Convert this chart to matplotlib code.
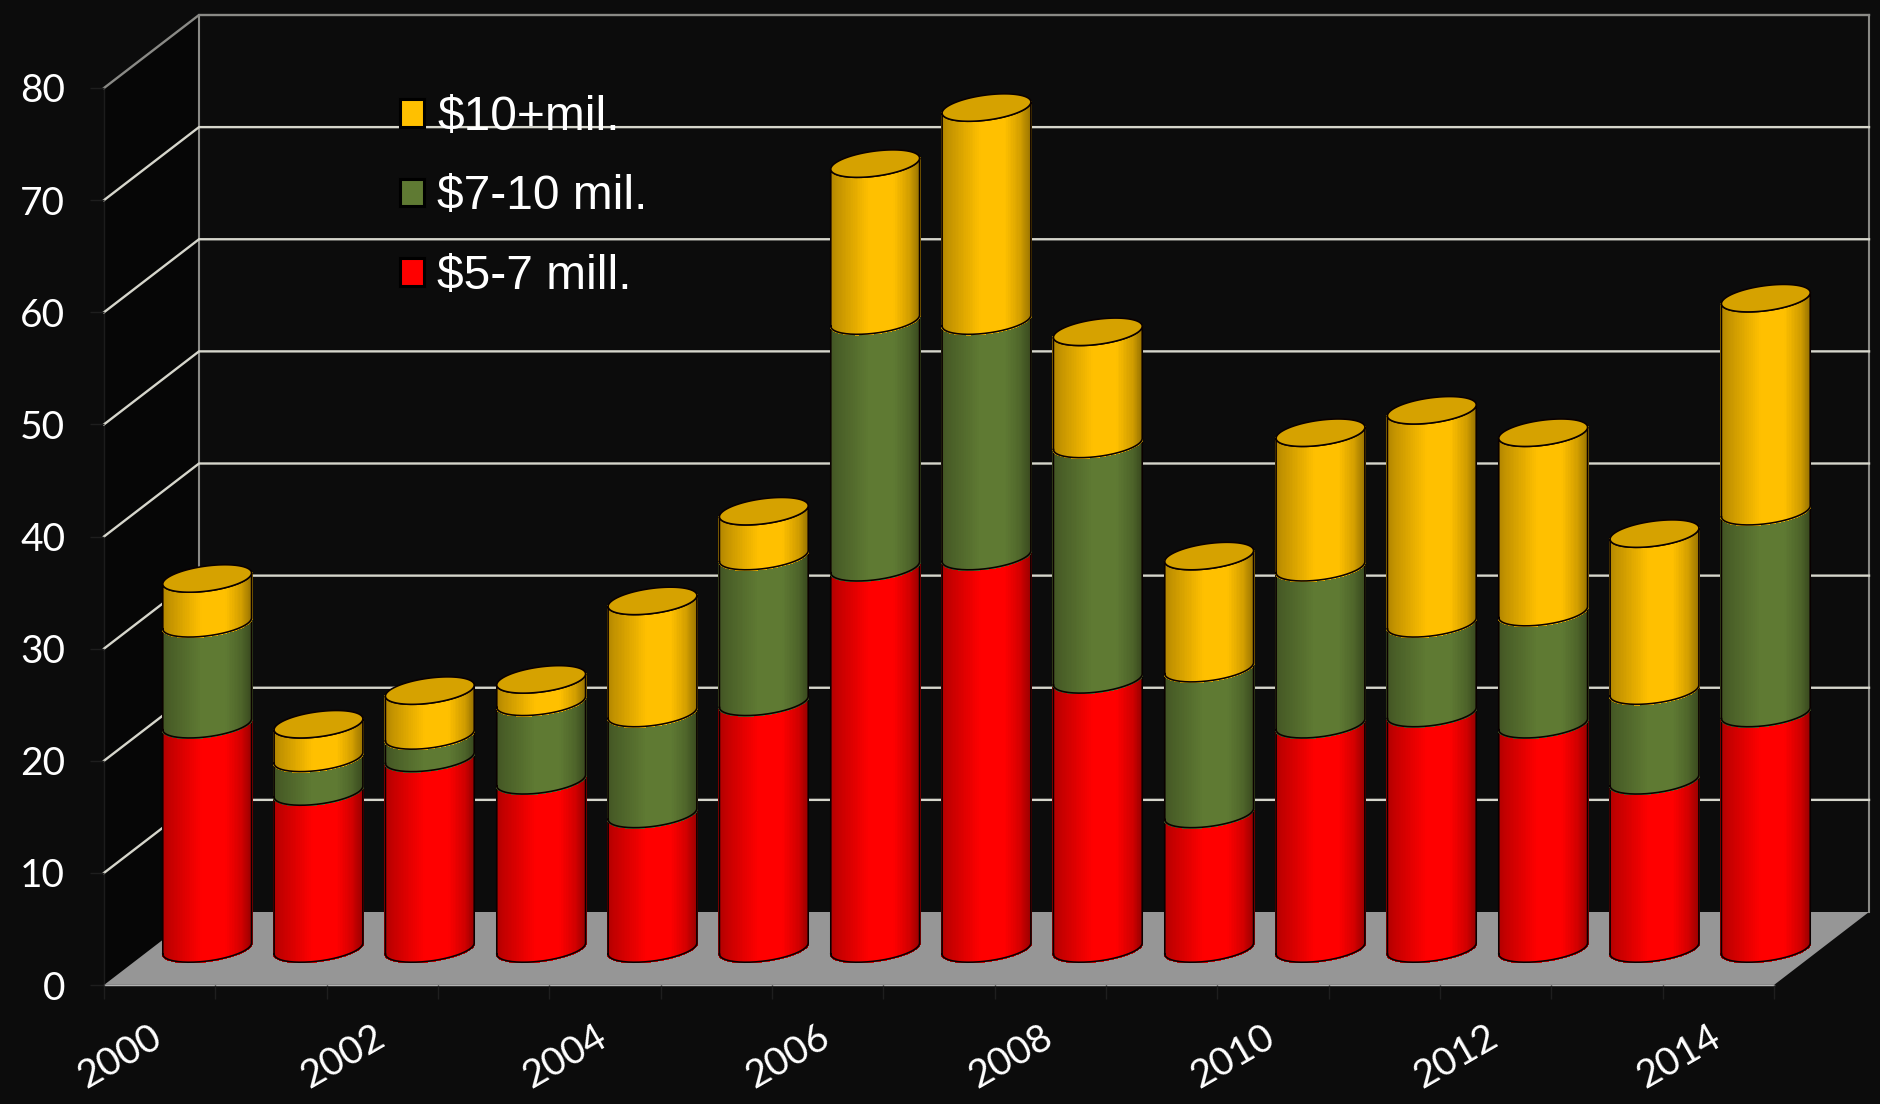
import numpy as np
import matplotlib
matplotlib.use("Agg")
import matplotlib.pyplot as plt
from matplotlib.collections import PolyCollection
from matplotlib.patches import Patch, Polygon
from matplotlib.colors import to_rgb
from matplotlib.transforms import ScaledTranslation

years = list(range(2000, 2015))
low = [20, 14, 17, 15, 12, 22, 34, 35, 24, 12, 20, 21, 20, 15, 21]    # $5-7 mill.
mid = [9, 3, 2, 7, 9, 13, 22, 21, 21, 13, 14, 8, 10, 8, 18]           # $7-10 mil.
high = [4, 3, 4, 2, 10, 4, 14, 19, 10, 10, 12, 19, 16, 14, 19]        # $10+mil.
series_labels = ["$5-7 mill.", "$7-10 mil.", "$10+mil."]
series_colors = ["#ff0000", "#5f7a33", "#ffc000"]
top_color = "#d6a200"
y_ticks = list(range(0, 90, 10))

W, H = 1881, 1104
BG = "#0c0c0c"
fig = plt.figure(figsize=(W / 100, H / 100), dpi=100, facecolor=BG)
ax = fig.add_axes([104 / W, (H - 985) / H, 1670 / W, 897 / H])
ax.set_facecolor("none")
ax.set_xlim(-0.5, 14.5)
ax.set_ylim(0, 80)

DX = 95 / (1670 / 15)   # depth offset in category units
DY = 73 / (897 / 80)    # depth offset in value units


def proj(i, v, d):
    return np.asarray(i) + np.asarray(d) * DX, np.asarray(v) + np.asarray(d) * DY


GRID = "#d6d6cc"
EDGE = "#8a8a86"

# walls & floor
xs, ys = proj([-0.5, -0.5, -0.5, -0.5], [0, 80, 80, 0], [0, 0, 1, 1])
ax.add_patch(Polygon(np.c_[xs, ys], fc="#060606", ec="none", zorder=1, clip_on=False))
xs, ys = proj([-0.5, 14.5, 14.5, -0.5], [0, 0, 0, 0], [0, 0, 1, 1])
ax.add_patch(Polygon(np.c_[xs, ys], fc="#969696", ec="none", zorder=1.2, clip_on=False))
ax.plot([-0.5, 14.5], [0, 0], color="#b4b4b4", lw=1.0, zorder=1.3, clip_on=False)

# gridlines
for v in y_ticks[1:]:
    col = EDGE if v == 80 else GRID
    x, y = proj([-0.5, -0.5, 14.5], [v, v, v], [0, 1, 1])
    ax.plot(x, y, color=col, lw=1.7, zorder=1.5, clip_on=False, solid_joinstyle="miter")
for c in (-0.5, 14.5):
    x, y = proj([c, c], [0, 80], [1, 1])
    ax.plot(x, y, color=EDGE, lw=1.5, zorder=1.4, clip_on=False)

# cylinders
UX = 0.365          # radius along the category axis
VD = 0.188          # radius along the depth axis (fraction of depth)
CD = 0.5            # depth of the cylinder axis
theta = np.arctan2(VD * DX, UX)
bright_pos = [0.0, 0.08, 0.45, 0.72, 0.90, 1.0]
bright_val = [0.68, 0.76, 1.0, 1.0, 0.82, 0.62]


def ring(i, v, t):
    return proj(i + UX * np.cos(t), v, CD + VD * np.sin(t))


def segment(i, v0, v1, color, z):
    n = 70
    t = np.linspace(np.pi + theta, 2 * np.pi + theta, n + 1)
    x0, y0 = ring(i, v0, t)
    x1, y1 = ring(i, v1, t)
    base = np.array(to_rgb(color))
    polys, cols = [], []
    xmin, xmax = x0.min(), x0.max()
    for k in range(n):
        polys.append([(x0[k], y0[k]), (x0[k + 1], y0[k + 1]), (x1[k + 1], y1[k + 1]), (x1[k], y1[k])])
        f = ((x0[k] + x0[k + 1]) / 2 - xmin) / (xmax - xmin)
        cols.append(base * np.interp(f, bright_pos, bright_val))
    pc = PolyCollection(polys, facecolors=cols, edgecolors=cols, linewidths=1.0, antialiaseds=False,
                        zorder=z, clip_on=False)
    ax.add_collection(pc, autolim=False)
    # outline: bottom arc, sides, top arc
    ox = np.r_[x0, x1[::-1], x0[0]]
    oy = np.r_[y0, y1[::-1], y0[0]]
    ax.plot(ox, oy, color="#0a0000", lw=1.15, zorder=z + 0.01, clip_on=False, solid_joinstyle="round")


for i in range(len(years)):
    z = 3 + i * 0.1
    b1 = low[i]
    b2 = b1 + mid[i]
    b3 = b2 + high[i]
    segment(i, 0, b1, series_colors[0], z)
    segment(i, b1, b2, series_colors[1], z + 0.02)
    segment(i, b2, b3, series_colors[2], z + 0.04)
    t = np.linspace(0, 2 * np.pi, 120)
    x, y = ring(i, b3, t)
    ax.add_patch(Polygon(np.c_[x, y], fc=top_color, ec="#0a0000", lw=1.15, zorder=z + 0.06, clip_on=False))

# axes furniture
for s in ("top", "right"):
    ax.spines[s].set_visible(False)
for s in ("left", "bottom"):
    ax.spines[s].set_color("#1c1c1c")
    ax.spines[s].set_linewidth(1.0)
    ax.spines[s].set_zorder(1.25)

ax.set_yticks(y_ticks)
ax.set_yticklabels([str(v) for v in y_ticks], fontfamily="Lato", fontsize=28, color="white")
ax.tick_params(axis="y", length=10, width=1, color="#1e1e1e", pad=18)

ax.set_xticks(np.arange(-0.5, 15, 1), minor=True)
major = list(range(0, 15, 2))
ax.set_xticks(major)
ax.set_xticklabels([str(years[k]) for k in major], fontfamily="Lato", fontsize=28, color="white",
                   rotation=30, ha="right", va="top", rotation_mode="anchor")
ax.tick_params(axis="x", which="major", length=0, pad=24)
ax.tick_params(axis="x", which="minor", length=10, width=1, color="#1e1e1e")
for lab in ax.get_xticklabels():
    lab.set_transform(lab.get_transform() + ScaledTranslation(-10 / 100, 0, fig.dpi_scale_trans))

# legend
handles = [Patch(fc=series_colors[k], ec="black", lw=2.2) for k in (2, 1, 0)]
labels = [series_labels[k] for k in (2, 1, 0)]
leg = fig.legend(handles, labels, loc="upper left", bbox_to_anchor=(400 / W, 1 - 95 / H),
                 frameon=False, labelcolor="white",
                 prop={"family": "Liberation Sans", "size": 34.5},
                 handlelength=0.5, handleheight=0.5, handletextpad=0.28,
                 labelspacing=0.72, borderpad=0, borderaxespad=0)
leg.set_zorder(10)

fig.savefig("out.png", dpi=100, facecolor=BG)
